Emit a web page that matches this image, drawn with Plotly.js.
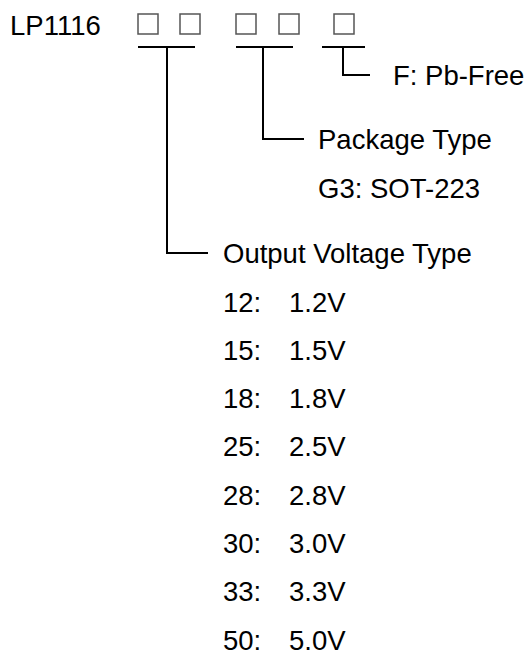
<!DOCTYPE html>
<html>
<head>
<meta charset="utf-8">
<script src="https://cdn.plot.ly/plotly-3.0.1.min.js"></script>
<style>html,body{margin:0;padding:0;background:#fff;}#chart{width:529px;height:656px;}</style>
</head>
<body>
<div id="chart"></div>
<script>
// ---- content ----
const partPrefix = "LP1116";
const fieldNames = ["Output Voltage Type", "Package Type", "F: Pb-Free"];
const packageCodes = ["G3: SOT-223"];
const voltageCodes = ["12:", "15:", "18:", "25:", "28:", "30:", "33:", "50:"];
const voltageValues = ["1.2V", "1.5V", "1.8V", "2.5V", "2.8V", "3.0V", "3.3V", "5.0V"];

// ---- geometry (layout only) ----
const FONT = {family: "Liberation Sans, Arial, sans-serif", size: 27.5, color: "#000"};
const boxLefts = [138, 180, 236, 279, 334];
const boxTop = 14, boxSize = 20;
const brY = 47;
// [left, right, stemX, elbowY, elbowEndX, labelX]
const brackets = [
  [138, 195, 167, 253, 208, 223],
  [236, 293, 263, 139, 304, 318],
  [322, 365, 343, 75, 370, 393]
];
const rowY0 = 302, rowStep = 48.3, codeX = 223, valueX = 289;

const shapes = [];
const annotations = [];
const line = {color: "#000", width: 2};

boxLefts.forEach(x => shapes.push({type: "rect", xref: "x", yref: "y", x0: x, x1: x + boxSize, y0: boxTop, y1: boxTop + boxSize, line: {color: "#555", width: 1.5}}));

brackets.forEach((b, i) => {
  shapes.push({type: "line", xref: "x", yref: "y", x0: b[0], x1: b[1], y0: brY, y1: brY, line});
  shapes.push({type: "path", xref: "x", yref: "y", path: `M${b[2]},${brY} L${b[2]},${b[3]} L${b[4]},${b[3]}`, line});
  annotations.push({x: b[5], y: b[3], text: fieldNames[i]});
});

annotations.push({x: 10, y: 25, text: partPrefix});
packageCodes.forEach((t, i) => annotations.push({x: brackets[1][5], y: brackets[1][3] + 49 * (i + 1), text: t}));
voltageCodes.forEach((c, i) => {
  const y = rowY0 + i * rowStep;
  annotations.push({x: codeX, y, text: c});
  annotations.push({x: valueX, y, text: voltageValues[i]});
});

annotations.forEach(a => Object.assign(a, {xref: "x", yref: "y", xanchor: "left", yanchor: "middle", showarrow: false, borderpad: 0, borderwidth: 0, font: FONT}));

const layout = {
  width: 529, height: 656,
  margin: {l: 0, r: 0, t: 0, b: 0},
  paper_bgcolor: "#fff", plot_bgcolor: "#fff",
  xaxis: {range: [0, 529], visible: false, fixedrange: true},
  yaxis: {range: [656, 0], visible: false, fixedrange: true},
  showlegend: false,
  shapes, annotations
};
Plotly.newPlot("chart", [], layout, {staticPlot: true, displayModeBar: false});
</script>
</body>
</html>
